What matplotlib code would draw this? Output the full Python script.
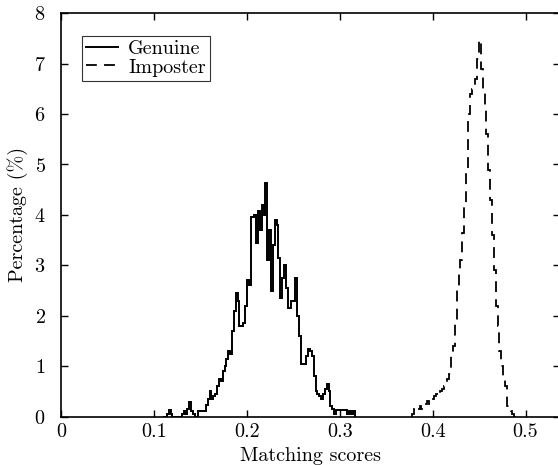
import numpy as np
import matplotlib
matplotlib.use("Agg")
import matplotlib.pyplot as plt

plt.rcParams['font.family'] = ['cmr10', 'DejaVu Serif']
plt.rcParams['axes.formatter.use_mathtext'] = True

# Histogram data (bin width 0.002), percentage per bin
bin_width = 0.002
genuine_start = 0.110
genuine_pct = [
    0, 0, 0.05, 0.12, 0.05, 0, 0, 0, 0, 0,            # 0.110-0.128
    0.05, 0.1, 0.05, 0.15, 0.28, 0.1, 0.05, 0, 0, 0.1,   # 0.130-0.148
    0.1, 0.11, 0.11, 0.23, 0.35, 0.5, 0.35, 0.4, 0.45, 0.6,  # 0.150-0.168
    0.75, 0.7, 0.9, 1.0, 1.15, 1.3, 1.25, 1.7, 2.1, 2.45,    # 0.170-0.188
    2.3, 1.8, 1.8, 1.85, 2.2, 2.7, 2.6, 3.95, 3.95, 4.0,     # 0.190-0.208
    3.45, 4.08, 3.7, 4.2, 4.0, 4.64, 3.1, 3.7, 2.5, 3.4,     # 0.210-0.228
    3.9, 3.8, 3.15, 2.35, 2.75, 3.0, 2.55, 2.15, 2.15, 2.3,  # 0.230-0.248
    2.3, 2.75, 2.0, 1.6, 1.05, 1.05, 1.05, 1.2, 1.33, 1.3,   # 0.250-0.268
    1.2, 0.8, 0.5, 0.45, 0.4, 0.35, 0.45, 0.55, 0.65, 0.5,   # 0.270-0.288
    0.2, 0.15, 0.05, 0.12, 0.12, 0.12, 0.12, 0.12, 0.12, 0.05, # 0.290-0.308
    0.1, 0.05, 0.1, 0,                                        # 0.310-0.316
]

imposter_start = 0.378
imposter_pct = [
    0.05, 0.15, 0.1, 0.15, 0.2, 0.15, 0.2, 0.25, 0.3, 0.25,   # 0.378-0.396
    0.3, 0.35, 0.4, 0.45, 0.4, 0.5, 0.55, 0.6, 0.65, 0.75,    # 0.398-0.416
    0.85, 1.2, 1.4, 1.9, 2.55, 2.9, 3.1, 3.65, 4.2, 4.9,      # 0.418-0.436
    6.0, 6.4, 6.5, 6.55, 6.7, 7.1, 7.47, 6.9, 6.45, 6.15,     # 0.438-0.456
    5.6, 4.9, 4.3, 3.6, 2.9, 2.2, 1.8, 1.3, 1.0, 0.8,         # 0.458-0.476
    0.6, 0.2, 0.15, 0.1, 0.05, 0,                             # 0.478-0.488
]

x_ticks = [0, 0.1, 0.2, 0.3, 0.4, 0.5]
x_ticklabels = ["0", "0.1", "0.2", "0.3", "0.4", "0.5"]
y_ticks = [0, 1, 2, 3, 4, 5, 6, 7, 8]

fig = plt.figure(figsize=(5.58, 4.65), dpi=100)
W, H = 558, 465
ax = fig.add_axes([61 / W, (H - 416.5) / H, (560 - 61) / W, (416.5 - 13.3) / H])

g_edges = genuine_start + bin_width * np.arange(len(genuine_pct) + 1)
i_edges = imposter_start + bin_width * np.arange(len(imposter_pct) + 1)

ax.stairs(genuine_pct, g_edges, color='black', linewidth=1.4, label='Genuine')
ax.stairs(imposter_pct, i_edges, color='black', linewidth=1.3,
          linestyle=(0, (6, 4)), label='Imposter')

ax.set_xlim(0, (560 - 61) / 929)
ax.set_ylim(0, 8)
ax.set_xticks(x_ticks)
ax.set_xticklabels(x_ticklabels)
ax.set_yticks(y_ticks)
ax.tick_params(direction='in', length=5, width=1, top=True, right=True,
               labelsize=14.5)
ax.tick_params(axis='x', pad=5)
ax.tick_params(axis='y', pad=11)
for s in ax.spines.values():
    s.set_linewidth(1.2)

ax.set_xlabel('Matching scores', fontsize=14.5, labelpad=4)
ax.set_ylabel('Percentage (%)', fontsize=14.5, labelpad=4)

leg = ax.legend(loc='upper left', bbox_to_anchor=(0.042, 0.943), fontsize=14.5,
                frameon=True, fancybox=False, edgecolor='black',
                handlelength=1.6, handletextpad=0.5, borderpad=0.2,
                labelspacing=0.0, borderaxespad=0)
leg.get_frame().set_linewidth(0.8)

fig.savefig('out.png', dpi=100)
